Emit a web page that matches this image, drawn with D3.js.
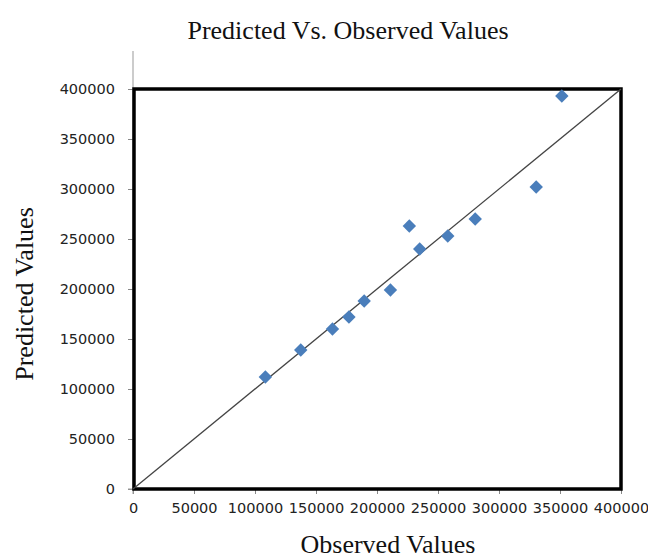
<!DOCTYPE html>
<html>
<head>
<meta charset="utf-8">
<script src="https://cdn.jsdelivr.net/npm/d3@7"></script>
<style>
body { margin: 0; background: #fff; }
</style>
</head>
<body>
<div id="chart"></div>
<script>
// observed vs predicted pairs
var observed  = [108500, 137500, 163500, 177000, 189500, 211000, 226500, 235000, 258000, 280500, 330500, 351500];
var predicted = [112000, 139000, 160000, 172000, 188000, 199000, 263000, 240000, 253000, 270000, 302000, 393000];
var tickValues = [0, 50000, 100000, 150000, 200000, 250000, 300000, 350000, 400000];
var fitLine = [0, 400000];

var W = 648, H = 558;
var pLeft = 133, pRight = 621, pTop = 89, pBottom = 489;

var svg = d3.select("#chart").append("svg")
    .attr("width", W)
    .attr("height", H);

var x = d3.scaleLinear().domain([0, 400000]).range([pLeft, pRight]);
var y = d3.scaleLinear().domain([0, 400000]).range([pBottom, pTop]);

// axes (gray, ticks outside)
var xAxis = svg.append("g")
    .attr("transform", "translate(0," + pBottom + ")")
    .call(d3.axisBottom(x).tickValues(tickValues).tickSize(5).tickPadding(9).tickFormat(d3.format("d")));
var yAxis = svg.append("g")
    .attr("transform", "translate(" + pLeft + ",0)")
    .call(d3.axisLeft(y).tickValues(tickValues).tickSize(5).tickPadding(13).tickFormat(d3.format("d")));

[xAxis, yAxis].forEach(function(g) {
  g.select(".domain").remove();
  g.selectAll(".tick line").attr("stroke", "#888");
  g.selectAll(".tick text")
    .attr("fill", "#222")
    .style("font-family", "DejaVu Sans")
    .style("font-size", "14.5px");
});

// axis lines
svg.append("line").attr("x1", pLeft).attr("x2", pLeft).attr("y1", 51).attr("y2", pBottom + 5)
    .attr("stroke", "#999").attr("stroke-width", 1);
svg.append("line").attr("x1", pLeft - 5).attr("x2", pRight).attr("y1", pBottom).attr("y2", pBottom)
    .attr("stroke", "#999").attr("stroke-width", 1);

// thick plot border
svg.append("rect")
    .attr("x", pLeft + 1).attr("y", pTop)
    .attr("width", pRight - pLeft - 1).attr("height", pBottom - pTop)
    .attr("fill", "none")
    .attr("stroke", "#000")
    .attr("stroke-width", 3.5);

// 1:1 line
svg.append("line")
    .attr("x1", x(fitLine[0])).attr("y1", y(fitLine[0]))
    .attr("x2", x(fitLine[1])).attr("y2", y(fitLine[1]))
    .attr("stroke", "#444")
    .attr("stroke-width", 1.3);

// diamonds
svg.selectAll(".pt")
    .data(observed)
    .enter()
    .append("path")
    .attr("class", "pt")
    .attr("d", d3.symbol().type(d3.symbolDiamond2).size(115))
    .attr("transform", function(d, i) { return "translate(" + x(d) + "," + y(predicted[i]) + ")"; })
    .attr("fill", "#4a7ebb");

// titles
svg.append("text")
    .attr("x", 348).attr("y", 39)
    .attr("text-anchor", "middle")
    .style("font-family", "Liberation Serif")
    .style("font-size", "26px")
    .attr("fill", "#111")
    .text("Predicted Vs. Observed Values");

svg.append("text")
    .attr("x", 388).attr("y", 553)
    .attr("text-anchor", "middle")
    .style("font-family", "Liberation Serif")
    .style("font-size", "26px")
    .attr("fill", "#111")
    .text("Observed Values");

svg.append("text")
    .attr("transform", "translate(33,294) rotate(-90)")
    .attr("text-anchor", "middle")
    .style("font-family", "Liberation Serif")
    .style("font-size", "26px")
    .attr("fill", "#111")
    .text("Predicted Values");
</script>
</body>
</html>
